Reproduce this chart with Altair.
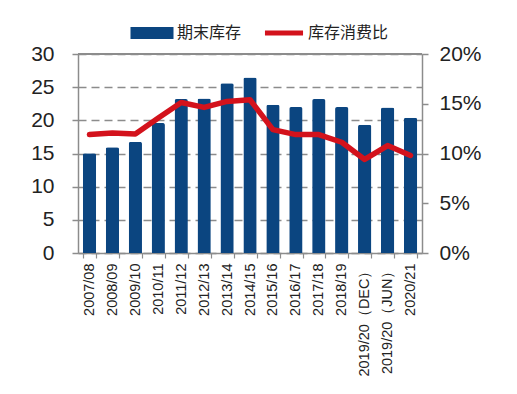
import altair as alt
import pandas as pd

seasons = ["2007/08", "2008/09", "2009/10", "2010/11", "2011/12", "2012/13", "2013/14",
           "2014/15", "2015/16", "2016/17", "2017/18", "2018/19", "2019/20（DEC）",
           "2019/20（JUN）", "2020/21"]
stock = [15.05, 15.95, 16.75, 19.6, 23.2, 23.3, 25.6, 26.45, 22.35, 22.0, 23.2, 22.0, 19.35, 21.95, 20.4]
ratio = [11.9, 12.07, 11.97, 13.57, 15.13, 14.63, 15.23, 15.4, 12.4, 11.9, 11.9, 11.13, 9.4, 10.8, 9.8]

df = pd.DataFrame({
    "season": seasons,
    "stock": stock,
    "ratio": [r / 100 for r in ratio],
    "s1": ["期末库存"] * len(seasons),
    "s2": ["库存消费比"] * len(seasons),
})

BLUE = "#0B4580"
RED = "#D3121C"
GREY = "#8C8C8C"
FONT = "Liberation Sans"
CJK = "Noto Sans CJK SC"

x = alt.X("season:N", sort=seasons, title=None,
          scale=alt.Scale(paddingInner=0.42, paddingOuter=0.21),
          axis=alt.Axis(labelAngle=-90, labelFontSize=14.5, labelFont=FONT, labelColor="#222",
                        labelPadding=5, tickBand="extent", tickColor=GREY, tickSize=5,
                        domainColor=GREY, domainWidth=1.5, tickWidth=1.2, labelLimit=200))

left_axis = alt.Axis(values=[0, 5, 10, 15, 20, 25, 30], orient="left", labelOverlap=False,
                     labelFontSize=21, labelFont=FONT, labelColor="#222",
                     labelPadding=18, tickSize=6, tickColor=GREY, domainColor=GREY,
                     domainWidth=1.5, tickWidth=1.5,
                     grid=True, gridColor=GREY, gridDash=[8, 5], gridWidth=1.5)
left_scale = alt.Scale(domain=[0, 30], nice=False)

bars = alt.Chart(df).mark_bar(cornerRadiusTopLeft=2, cornerRadiusTopRight=2).encode(
    x=x,
    y=alt.Y("stock:Q", title=None, scale=left_scale, axis=left_axis),
    color=alt.Color("s1:N", scale=alt.Scale(range=[BLUE]),
                    legend=alt.Legend(title=None, orient="none", legendX=52, legendY=-43,
                                      direction="horizontal",
                                      symbolType="M-1,-0.28h2v0.56h-2z", symbolSize=1850,
                                      symbolStrokeWidth=0, symbolOpacity=1,
                                      labelFont=CJK, labelFontSize=16, labelColor="#222",
                                      labelOffset=3, padding=0)),
)

top = alt.Chart(df).mark_rule(color=GREY, strokeWidth=1.5).encode(
    y=alt.YDatum(30, scale=left_scale, axis=left_axis, title=None))

line = alt.Chart(df).mark_line(strokeWidth=5.5, strokeJoin="round", strokeCap="round").encode(
    x=alt.X("season:N", sort=seasons),
    y=alt.Y("ratio:Q", title=None,
            scale=alt.Scale(domain=[0, 0.2], nice=False),
            axis=alt.Axis(values=[0, 0.05, 0.1, 0.15, 0.2], format=".0%", orient="right",
                          labelOverlap=False,
                          labelFontSize=21, labelFont=FONT, labelColor="#222",
                          labelPadding=11, tickSize=6, tickColor=GREY, domainColor=GREY,
                          domainWidth=1.5, tickWidth=1.5, grid=False)),
    stroke=alt.Stroke("s2:N", scale=alt.Scale(range=[RED]),
                      legend=alt.Legend(title=None, orient="none", legendX=184, legendY=-43,
                                        direction="horizontal", symbolType="stroke",
                                        symbolSize=1450, symbolStrokeWidth=5,
                                        labelFont=CJK, labelFontSize=16, labelColor="#222",
                                        labelOffset=2, padding=0)),
)

chart = alt.layer(alt.layer(bars, top), line).resolve_scale(
    y="independent", color="independent", stroke="independent"
).properties(
    width=344, height=199,
    autosize=alt.AutoSizeParams(type="none"),
    padding={"left": 70, "top": 46, "right": 80, "bottom": 130},
).configure_view(stroke=None).configure(background="white")

chart.save("out.html", embed_options={"renderer": "svg", "actions": False})
